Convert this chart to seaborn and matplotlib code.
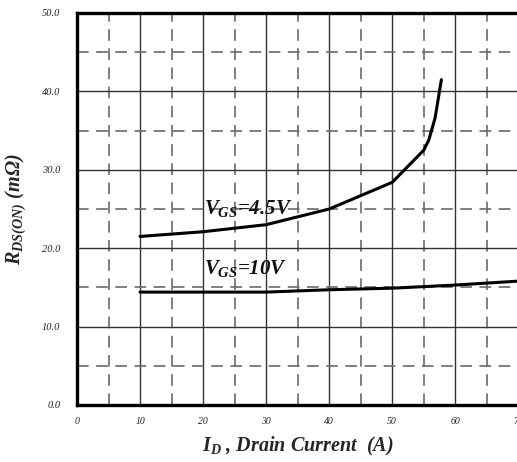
import matplotlib
matplotlib.use("Agg")
import matplotlib.pyplot as plt
import seaborn as sns
import pandas as pd
from matplotlib.ticker import MultipleLocator

# Drain current (A) and on-resistance (mOhm) for the two gate drives
id_45 = [10, 20, 30, 35, 40, 50, 55, 55.8, 56.8, 57.8]
rds_45 = [21.5, 22.1, 23.0, 24.0, 25.0, 28.4, 32.5, 33.8, 36.6, 41.5]
id_10 = [10, 30, 40, 50, 60, 70]
rds_10 = [14.4, 14.4, 14.7, 14.9, 15.3, 15.8]

x_ticks = [0, 10, 20, 30, 40, 50, 60, 70]
y_ticks = [0.0, 10.0, 20.0, 30.0, 40.0, 50.0]

sns.set_style("white")
plt.rcParams["font.family"] = ["Liberation Serif", "DejaVu Serif"]
plt.rcParams["mathtext.fontset"] = "custom"
plt.rcParams["mathtext.rm"] = "Liberation Serif:italic:bold"
plt.rcParams["mathtext.it"] = "Liberation Serif:italic:bold"
plt.rcParams["mathtext.bf"] = "Liberation Serif:italic:bold"

df = pd.concat([
    pd.DataFrame({"id": id_45, "rds": rds_45, "vgs": "4.5V"}),
    pd.DataFrame({"id": id_10, "rds": rds_10, "vgs": "10V"}),
])

W, H = 517, 462
fig = plt.figure(figsize=(W / 100, H / 100), dpi=100)
ax = fig.add_axes([77 / W, (H - 405) / H, (518.3 - 77) / W, (405 - 13) / H])

sns.lineplot(data=df, x="id", y="rds", units="vgs", estimator=None,
             color="black", lw=2.2, sort=False, ax=ax, zorder=5)

ax.set_xlim(0, 70)
ax.set_ylim(0, 50)
ax.xaxis.set_minor_locator(MultipleLocator(5))
ax.yaxis.set_minor_locator(MultipleLocator(5))
ax.set_xticks(x_ticks)
ax.set_yticks(y_ticks)
ax.set_xticklabels([str(v) for v in x_ticks])
ax.set_yticklabels([f"{v:.1f}" for v in y_ticks])

ax.grid(which="major", color="#333333", lw=1.0, ls="-")
ax.grid(which="minor", color="#6a6a6a", lw=1.2, ls=(0, (7, 4.5)))
ax.set_axisbelow(True)

for s in ["left", "top", "bottom"]:
    ax.spines[s].set_linewidth(2.4)
    ax.spines[s].set_color("black")
ax.spines["right"].set_visible(False)

ax.tick_params(which="both", length=0)
ax.tick_params(axis="x", pad=9, labelsize=7)
ax.tick_params(axis="y", pad=12, labelsize=7.5)
for lab in ax.get_xticklabels() + ax.get_yticklabels():
    lab.set_fontstyle("italic")
    lab.set_color("#222222")

ax.set_xlabel(r"$I_{D}$ , Drain Current  (A)", fontsize=14.5, fontweight="bold",
              fontstyle="italic", labelpad=6)
ax.set_ylabel(r"$R_{DS(ON)}$ (m$\Omega$)", fontsize=14.5, fontweight="bold",
              fontstyle="italic", labelpad=10)

ax.text(20.2, 24.4, r"$V_{GS}$=4.5V", fontsize=15, fontweight="bold",
        fontstyle="italic", color="#111111", zorder=6)
ax.text(20.2, 16.7, r"$V_{GS}$=10V", fontsize=15, fontweight="bold",
        fontstyle="italic", color="#111111", zorder=6)

fig.savefig("out.png", dpi=100)
